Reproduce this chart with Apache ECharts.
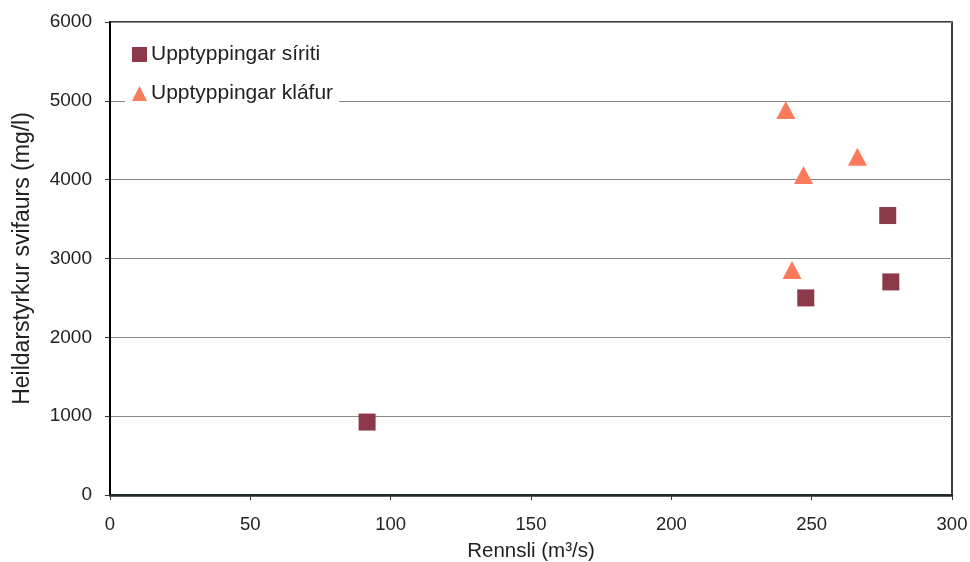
<!DOCTYPE html>
<html>
<head>
<meta charset="utf-8">
<script src="https://cdn.jsdelivr.net/npm/echarts@6/dist/echarts.min.js"></script>
<style>html,body{margin:0;padding:0;background:#fff}#c{width:970px;height:562px}</style>
</head>
<body>
<div id="c"></div>
<script>
const seriesNames = ["Upptyppingar síriti", "Upptyppingar kláfur"];
const siritiX = [91.6, 247.9, 277.1, 278.2];
const siritiY = [925, 2500, 3545, 2703];
const klafurX = [240.8, 266.3, 247.1, 243.0];
const klafurY = [4885, 4290, 4060, 2855];
const xTicks = [0, 50, 100, 150, 200, 250, 300];
const yTicks = [0, 1000, 2000, 3000, 4000, 5000, 6000];

const font = "'Liberation Sans', Arial, sans-serif";
const chart = echarts.init(document.getElementById('c'), null, {renderer: 'canvas'});
chart.setOption({
  animation: false,
  backgroundColor: '#fff',
  grid: {left: 110, right: 18, top: 22, bottom: 67, containLabel: false, outerBoundsMode: 'none',
         show: true, borderColor: '#000', borderWidth: 1.5, backgroundColor: 'transparent'},
  xAxis: {
    type: 'value', min: xTicks[0], max: xTicks[xTicks.length - 1], interval: 50,
    name: 'Rennsli (m³/s)', nameLocation: 'middle', nameGap: 46,
    nameTextStyle: {fontFamily: font, fontSize: 20.5, color: '#222'},
    axisLine: {lineStyle: {color: '#1d2a24', width: 2.5}},
    axisTick: {show: true, length: 5, lineStyle: {color: '#333'}},
    axisLabel: {fontFamily: font, fontSize: 18.5, color: '#222', margin: 20, formatter: v => String(v)},
    splitLine: {show: false}
  },
  yAxis: {
    type: 'value', min: yTicks[0], max: yTicks[yTicks.length - 1], interval: 1000,
    name: 'Heildarstyrkur svifaurs (mg/l)', nameLocation: 'middle', nameGap: 76,
    nameTextStyle: {fontFamily: font, fontSize: 23, color: '#222'},
    axisLine: {lineStyle: {color: '#000', width: 2}},
    axisTick: {show: true, length: 5, lineStyle: {color: '#333'}},
    axisLabel: {fontFamily: font, fontSize: 19, color: '#222', margin: 18, formatter: v => String(v)},
    splitLine: {show: true, lineStyle: {color: '#888', width: 1}}
  },
  legend: {
    orient: 'vertical', left: 125, top: 36, padding: [8, 6, 8, 7],
    backgroundColor: '#fff', itemWidth: 15, itemHeight: 15, itemGap: 18,
    textStyle: {fontFamily: font, fontSize: 21, color: '#222', padding: [0, 0, 0, -1]},
    data: [{name: seriesNames[0], icon: 'rect'}, {name: seriesNames[1], icon: 'triangle'}]
  },
  series: [
    {
      name: seriesNames[0], type: 'scatter', symbol: 'rect', symbolSize: 17,
      itemStyle: {color: '#8c3a4a', opacity: 1},
      data: siritiX.map((x, i) => [x, siritiY[i]])
    },
    {
      name: seriesNames[1], type: 'scatter', symbol: 'triangle', symbolSize: [19, 18],
      itemStyle: {color: '#fb7a5c', opacity: 1},
      data: klafurX.map((x, i) => [x, klafurY[i]])
    }
  ]
});
</script>
</body>
</html>
